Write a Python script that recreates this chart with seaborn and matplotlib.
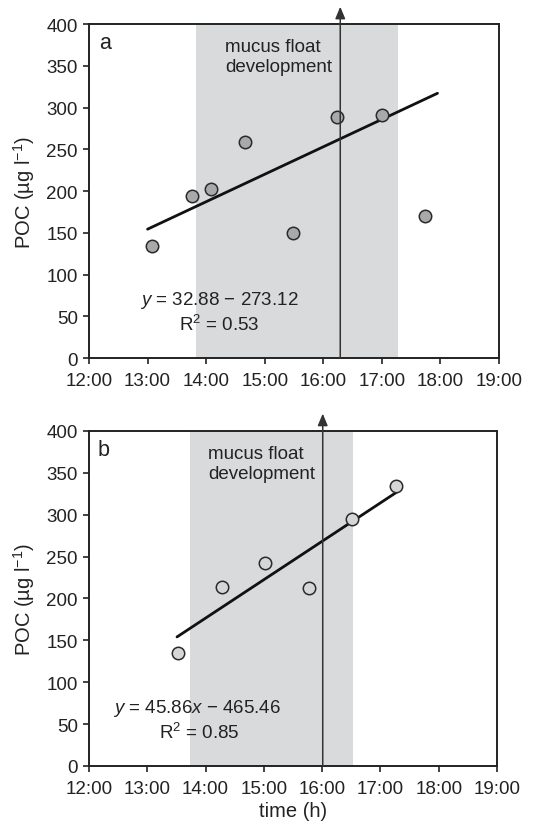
import numpy as np
import pandas as pd
import matplotlib
matplotlib.use("Agg")
import matplotlib.pyplot as plt
import seaborn as sns

# ---- data ----
time_a = [13.07, 13.76, 14.09, 14.66, 15.49, 16.24, 17.00, 17.74]
poc_a = [134, 194, 203, 259, 150, 289, 291, 170]
fit_a = (32.88, -273.12)
fit_range_a = [13.0, 17.95]
shade_a = (13.82, 17.27)
arrow_a = 16.29

time_b = [13.53, 14.28, 15.02, 15.78, 16.52, 17.27]
poc_b = [135, 214, 242, 212, 295, 334]
fit_b = (45.86, -465.46)
fit_range_b = [13.51, 17.28]
shade_b = (13.73, 16.53)
arrow_b = 16.01

xticks = [12, 13, 14, 15, 16, 17, 18, 19]
xticklabels = ["12:00", "13:00", "14:00", "15:00", "16:00", "17:00", "18:00", "19:00"]
yticks = [0, 50, 100, 150, 200, 250, 300, 350, 400]

sns.set_theme(style="ticks")
plt.rcParams['font.family'] = ['Liberation Sans', 'DejaVu Sans']
plt.rcParams['mathtext.fontset'] = 'custom'
plt.rcParams['mathtext.it'] = 'Liberation Sans:italic'
plt.rcParams['mathtext.rm'] = 'Liberation Sans'

fig = plt.figure(figsize=(5.49, 8.29), dpi=100)
ax_a = fig.add_axes([0.1621, 0.5669, 0.7468, 0.4029])
ax_b = fig.add_axes([0.1621, 0.0748, 0.7432, 0.4041])

FS = 13.5

def panel(ax, t, p, fit, frange, shade, arrow, face, letter, txt_x, eq, eq_x, r2, r2_x, show_xlabel):
    ax.axvspan(shade[0], shade[1], color="#d9dadc", lw=0, zorder=0)
    df = pd.DataFrame({"time": t, "poc": p})
    xs = np.array(frange)
    ys = fit[0] * xs + fit[1]
    sns.lineplot(x=xs, y=ys, ax=ax, color="#111111", lw=2, zorder=3)
    sns.scatterplot(data=df, x="time", y="poc", ax=ax, s=80, color=face,
                    edgecolor="#2a2a2a", linewidth=1.1, zorder=4)
    ax.annotate("", xy=(arrow, 1.052), xycoords=("data", "axes fraction"),
                xytext=(arrow, 0), textcoords=("data", "axes fraction"),
                arrowprops=dict(arrowstyle="-|>,head_length=0.6,head_width=0.25",
                                color="#333333", lw=1.1, shrinkA=0, shrinkB=0),
                annotation_clip=False, zorder=5)
    ax.set_xlim(12, 19)
    ax.set_ylim(0, 400)
    ax.set_xticks(xticks)
    ax.set_xticklabels(xticklabels)
    ax.set_yticks(yticks)
    ax.tick_params(direction="out", length=4, width=1.2, labelsize=FS, colors="#222222")
    ax.tick_params(axis="x", pad=6)
    ax.tick_params(axis="y", pad=4)
    for s in ax.spines.values():
        s.set_linewidth(1.4)
        s.set_color("#222222")
        s.set_visible(True)
    ax.set_ylabel("POC (µg l$^{-1}$)", fontsize=FS + 1, color="#222222", labelpad=7)
    if show_xlabel:
        ax.set_xlabel("time (h)", fontsize=FS + 1, color="#222222", labelpad=3)
    else:
        ax.set_xlabel("")
    ax.text(letter[0], letter[1], letter[2], fontsize=FS + 2, va="center", ha="left", color="#222222")
    ax.text(txt_x, 383, "mucus float\ndevelopment", fontsize=FS, va="top", ha="left",
            color="#222222", linespacing=1.2)
    ax.text(eq_x, 70, eq, fontsize=FS, ha="center", va="center", color="#222222")
    ax.text(r2_x, 41, r2, fontsize=FS, ha="center", va="center", color="#222222")

panel(ax_a, time_a, poc_a, fit_a, fit_range_a, shade_a, arrow_a, "#a9a9ab",
      (12.18, 378, "a"), 14.33, "$\\it{y}$ = 32.88 − 273.12", 14.23, "R$^2$ = 0.53", 14.23, False)
panel(ax_b, time_b, poc_b, fit_b, fit_range_b, shade_b, arrow_b, "#d6d6d8",
      (12.14, 378, "b"), 14.05, "$\\it{y}$ = 45.86$\\it{x}$ − 465.46", 13.86, "R$^2$ = 0.85", 13.9, True)

fig.savefig("out.png", dpi=100)
